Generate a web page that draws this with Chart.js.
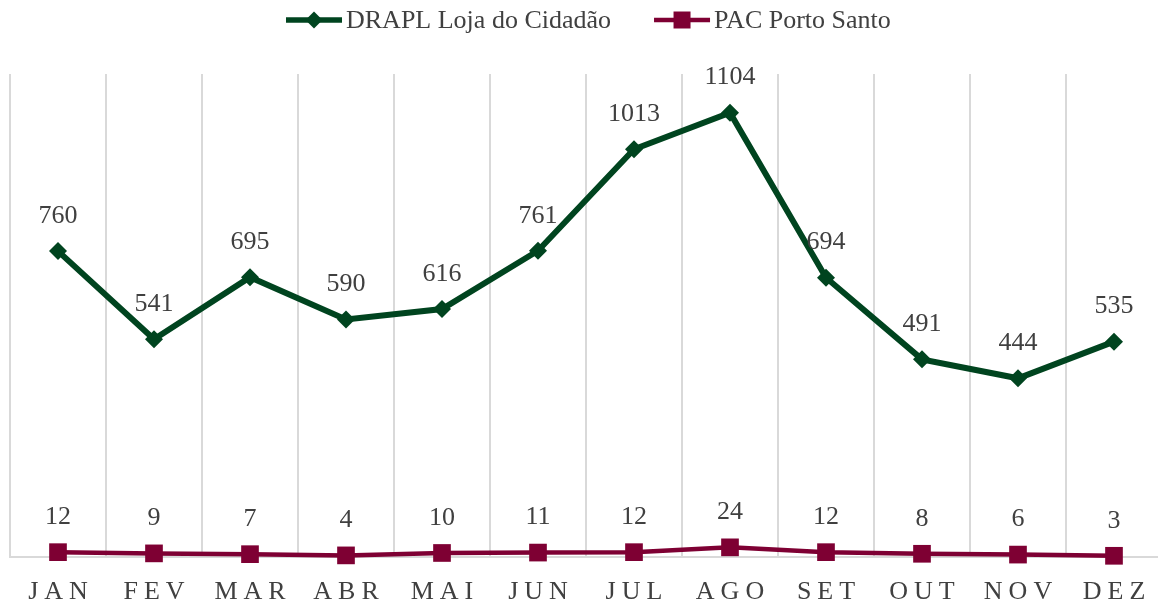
<!DOCTYPE html>
<html>
<head>
<meta charset="utf-8">
<script src="https://cdn.jsdelivr.net/npm/chart.js@4"></script>
<style>
  html, body { margin: 0; padding: 0; background: #fff; }
  #wrap { width: 1158px; height: 610px; position: relative; overflow: hidden; }
</style>
</head>
<body>
<div id="wrap"><canvas id="chart" width="1162" height="610"></canvas></div>
<script>
const months = ["JAN", "FEV", "MAR", "ABR", "MAI", "JUN", "JUL", "AGO", "SET", "OUT", "NOV", "DEZ"];
const drapl = [760, 541, 695, 590, 616, 761, 1013, 1104, 694, 491, 444, 535];
const pac = [12, 9, 7, 4, 10, 11, 12, 24, 12, 8, 6, 3];
const seriesNames = ["DRAPL Loja do Cidadão", "PAC Porto Santo"];

const GREEN = "#00441f";
const MAROON = "#7e0033";
const TEXT = "#404040";
const FONT = "'Liberation Serif', serif";

function drawMarker(ctx, style, x, y, r, color) {
  ctx.fillStyle = color;
  ctx.beginPath();
  if (style === "rectRot") {
    ctx.moveTo(x, y - r); ctx.lineTo(x + r, y); ctx.lineTo(x, y + r); ctx.lineTo(x - r, y);
  } else {
    ctx.rect(x - r, y - r, 2 * r, 2 * r);
  }
  ctx.closePath();
  ctx.fill();
}

// legend, value labels and spaced month labels
const extras = {
  id: "extras",
  afterDatasetsDraw(chart) {
    const ctx = chart.ctx;
    ctx.save();
    // value labels
    ctx.font = "26px " + FONT;
    ctx.fillStyle = TEXT;
    ctx.textAlign = "center";
    ctx.textBaseline = "middle";
    chart.data.datasets.forEach((ds, i) => {
      chart.getDatasetMeta(i).data.forEach((pt, j) => {
        ctx.fillText(String(ds.data[j]), pt.x, pt.y - 35);
      });
    });
    // month labels
    const xs = chart.scales.x;
    ctx.letterSpacing = "6px";
    months.forEach((m, j) => {
      const x = xs.getPixelForValue(j);
      ctx.fillText(m, x + 3, 592);
    });
    ctx.letterSpacing = "0px";
    // legend
    ctx.textAlign = "left";
    const lineW = 56, gap = 4, between = 43;
    const w1 = ctx.measureText(seriesNames[0]).width;
    let x = 286;
    const y = 20;
    const items = [
      { name: seriesNames[0], w: w1, color: GREEN, style: "rectRot", r: 8.5, lw: 5.5 },
      { name: seriesNames[1], w: 0, color: MAROON, style: "rect", r: 8.5, lw: 4.5 }
    ];
    items.forEach(it => {
      ctx.strokeStyle = it.color;
      ctx.lineWidth = it.lw;
      ctx.beginPath();
      ctx.moveTo(x, y); ctx.lineTo(x + lineW, y);
      ctx.stroke();
      drawMarker(ctx, it.style, x + lineW / 2, y, it.r, it.color);
      ctx.fillStyle = TEXT;
      ctx.fillText(it.name, x + lineW + gap, y + 1);
      x += lineW + gap + it.w + between;
    });
    ctx.restore();
  }
};

new Chart(document.getElementById("chart"), {
  type: "line",
  data: {
    labels: months,
    datasets: [
      {
        label: seriesNames[0],
        data: drapl,
        borderColor: GREEN,
        backgroundColor: GREEN,
        borderWidth: 6,
        pointStyle: "rectRot",
        pointRadius: 9,
        pointBorderWidth: 0,
        tension: 0,
        clip: false
      },
      {
        label: seriesNames[1],
        data: pac,
        borderColor: MAROON,
        backgroundColor: MAROON,
        borderWidth: 4.5,
        pointStyle: "rect",
        pointRadius: 12.5,
        pointBorderWidth: 0,
        tension: 0,
        clip: false
      }
    ]
  },
  options: {
    responsive: false,
    animation: false,
    maintainAspectRatio: false,
    layout: { autoPadding: false, padding: { top: 74, bottom: 53, left: 10, right: 0 } },
    plugins: { legend: { display: false }, tooltip: { enabled: false } },
    scales: {
      x: {
        offset: true,
        grid: {
          offset: true,
          drawTicks: false,
          color: "#d9d9d9",
          lineWidth: 2
        },
        border: { color: "#d9d9d9", width: 2 },
        ticks: { display: false }
      },
      y: {
        display: false,
        min: 0,
        max: 1200
      }
    }
  },
  plugins: [extras]
});
</script>
</body>
</html>
